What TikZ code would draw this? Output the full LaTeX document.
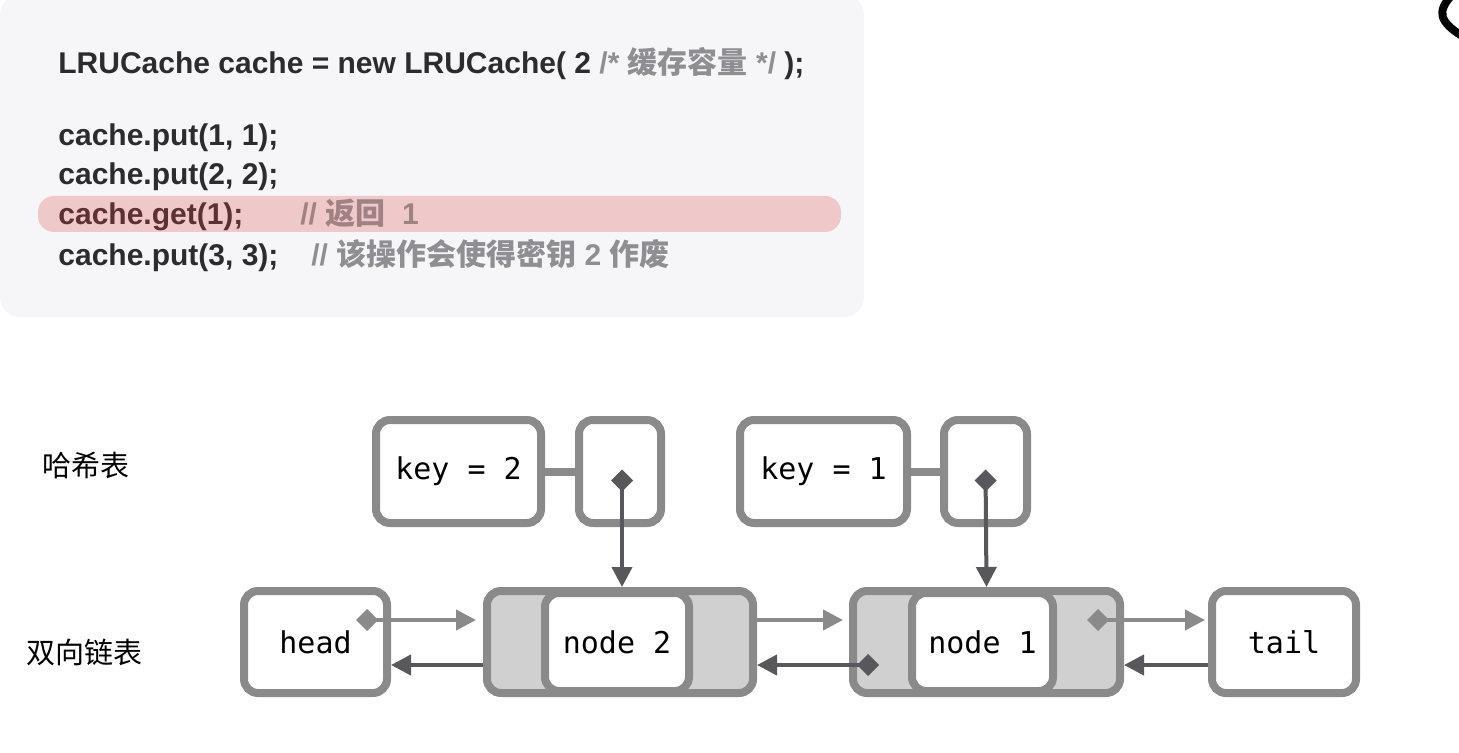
\documentclass[tikz,border=0pt]{standalone}
\usepackage{fontspec}
\setmainfont{Liberation Sans}
\setmonofont{DejaVu Sans Mono}
\newfontfamily\cjk{Noto Sans CJK SC}
\usetikzlibrary{arrows.meta}

\definecolor{codebg}{HTML}{F6F5F8}
\definecolor{hilite}{HTML}{EFC9CA}
\definecolor{codetxt}{HTML}{2C2C2E}
\definecolor{hitxt}{HTML}{5E2F33}
\definecolor{cmt}{HTML}{8E8E93}
\definecolor{hicmt}{HTML}{A08283}
\definecolor{rim}{HTML}{8A8A8A}
\definecolor{shade}{HTML}{D0D0D0}
\definecolor{darkptr}{HTML}{58575B}

\begin{document}
\begin{tikzpicture}[x=0.5pt, y=-0.5pt,
  code/.style={anchor=base west, inner sep=0pt, text=codetxt, font=\fontsize{15pt}{18pt}\selectfont\bfseries},
  box/.style={draw=rim, line width=4pt, rounded corners=7pt, fill=white, font=\fontsize{15pt}{18pt}\selectfont\ttfamily},
  listnode/.style={box, fill=shade, minimum width=133pt, minimum height=51pt},
  fwd/.style={draw=rim, line width=2pt, {Diamond[length=11pt,width=11pt]}-{Triangle[length=10pt,width=10pt]}},
  fwdplain/.style={draw=rim, line width=2pt, -{Triangle[length=10pt,width=10pt]}},
  bwd/.style={draw=darkptr, line width=2pt, -{Triangle[length=10pt,width=10pt]}},
  bwddia/.style={draw=darkptr, line width=2pt, {Diamond[length=11pt,width=11pt]}-{Triangle[length=10pt,width=10pt]}},
  tag/.style={font=\fontsize{14.5pt}{17pt}\selectfont\cjk}]
\useasboundingbox (0,0) rectangle (1459,753);
\fill[white] (0,0) rectangle (1459,753);

% code panel
\fill[codebg, rounded corners=10pt] (0,-5) rectangle (864,317);
\fill[hilite, rounded corners=8pt] (38,196) rectangle (841,232);
\node[code] (L1) at (58,74) {LRUCache cache = new LRUCache( 2 \textcolor{cmt}{/* {\cjk 缓存容量} */} );};
\node[code] (L2) at (58,146) {cache.put(1, 1);};
\node[code] (L3) at (58,185) {cache.put(2, 2);};
\node[code, text=hitxt] (L4) at (58,225) {cache.get(1);};
\node[code, text=hicmt] (C4) at (300,225) {// {\cjk 返回}\ \ 1};
\node[code] (L5) at (58,266) {cache.put(3, 3);};
\node[code, text=cmt] (C5) at (311,266) {// {\cjk 该操作会使得密钥} 2 {\cjk 作废}};

\node[tag] (HT) at (86,465) {哈希表};
\node[tag] (DL) at (84,652) {双向链表};

% hash table
\node[box, minimum width=82.5pt, minimum height=51.5pt] (K2) at (458.5,471.5) {key = 2};
\node[box, minimum width=41pt, minimum height=51.5pt] (P2) at (620,471.5) {};
\node[box, minimum width=83.5pt, minimum height=51.5pt] (K1) at (823.5,471.5) {key = 1};
\node[box, minimum width=41.5pt, minimum height=51.5pt] (P1) at (985.5,471.5) {};
\draw[rim, line width=4pt] (K2) -- (P2);
\draw[rim, line width=4pt] (K1) -- (P1);

% linked list
\node[box, minimum width=71.5pt, minimum height=51pt] (H) at (315.5,642) {head};
\node[listnode] (N2) at (620,642) {};
\node[box, minimum width=72pt, minimum height=49pt] (N2in) at (617,642) {node 2};
\node[listnode, minimum width=133.5pt] (N1) at (986.5,642) {};
\node[box, minimum width=70.5pt, minimum height=49pt] (N1in) at (982.5,642) {node 1};
\node[box, minimum width=72pt, minimum height=51pt] (T) at (1284,642) {tail};

\draw[bwddia] ([xshift=1pt,yshift=1pt]P2.center) -- ([xshift=1pt]N2.north);
\draw[bwddia] ([yshift=1pt]P1.center) -- (N1.north);
\draw[fwd, shorten >=3.5pt] ([xshift=-17.5pt,yshift=11pt]H.east) -- ([yshift=11pt]N2.west);
\draw[bwd] ([yshift=-11.5pt]N2.west) -- ([yshift=-11.5pt]H.east);
\draw[fwdplain, shorten >=3pt] ([yshift=11pt]N2.east) -- ([yshift=11pt]N1.west);
\draw[bwddia] ([xshift=15pt,yshift=-11.5pt]N1.west) -- ([yshift=-11.5pt]N2.east);
\draw[fwd, shorten >=1.5pt] ([xshift=-18.5pt,yshift=11pt]N1.east) -- ([yshift=11pt]T.west);
\draw[bwd] ([yshift=-11.5pt]T.west) -- ([yshift=-11.5pt]N1.east);

\draw[line width=4pt] (1452,-5) .. controls (1436,12) and (1440,22) .. (1462,36);
\end{tikzpicture}
\end{document}
